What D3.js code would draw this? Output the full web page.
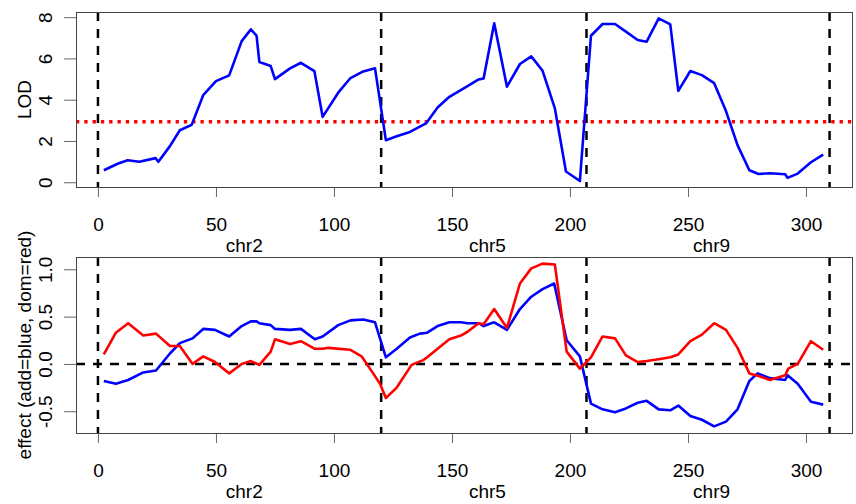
<!DOCTYPE html>
<html>
<head>
<meta charset="utf-8">
<script src="https://cdn.jsdelivr.net/npm/d3@7"></script>
<style>
  html, body { margin: 0; padding: 0; background: #fff; }
  svg text { font-family: "Liberation Sans", Arial, sans-serif; font-size: 19px; fill: #000; }
</style>
</head>
<body>
<script>
// ===== data =====
const lodPos = [2.5, 8.6, 12.6, 17.5, 24.4, 25.6, 30.5, 34.7, 39.7, 44.6, 50, 55.6, 60.9, 64.8, 67.2, 68.4, 73.2, 75, 81.4, 86, 91.7, 95.2, 101.8, 107, 112.4, 117.4,
  122, 126.6, 132.2, 139, 143.9, 148.9, 156.6, 161.3, 163.4, 167.9, 173.3, 178.8, 183.6, 188.4, 193.6, 198.3, 204.2,
  208.9, 213.8, 219.1, 223.7, 228.7, 232.5, 237.6, 242.5, 245.9, 251, 255.9, 261.1, 266.1, 271, 276, 279.9, 284.7, 291.2, 292.2, 296.5, 302.1, 307.3]
const lod = [0.58, 0.91, 1.07, 0.99, 1.17, 0.99, 1.75, 2.52, 2.78, 4.22, 4.9, 5.18, 6.84, 7.41, 7.1, 5.83, 5.63, 5.0, 5.52, 5.79, 5.39, 3.17, 4.34, 5.05, 5.37, 5.52,
  2.04, 2.23, 2.44, 2.85, 3.62, 4.14, 4.66, 4.98, 5.03, 7.70, 4.63, 5.73, 6.1, 5.4, 3.58, 0.52, 0.06,
  7.1, 7.67, 7.67, 7.3, 6.89, 6.81, 7.94, 7.65, 4.43, 5.39, 5.19, 4.8, 3.45, 1.8, 0.58, 0.4, 0.44, 0.39, 0.21, 0.42, 0.97, 1.34]

const addPos = [2.5, 7.6, 12.8, 19.2, 24.6, 30.5, 34.7, 40.1, 44.6, 49.6, 55.6, 60.9, 64.8, 67.2, 68.4, 73.2, 75, 81.4, 86, 91.9, 95.2, 101.8, 107, 112.4, 117.4,
  122, 126.6, 132.2, 136.4, 139.5, 143.9, 148.9, 153.8, 156.6, 161.3, 163.4, 167.9, 173.3, 178.8, 183.6, 188.4, 193.3, 198.6, 204.2,
  208.9, 213.8, 219.1, 223.7, 228.7, 232.5, 237.6, 242.5, 245.9, 251, 255.9, 261.1, 266.1, 271, 276, 279.5, 284.7, 291.2, 292.2, 296.5, 302.1, 307.3]
const add = [-0.18, -0.21, -0.17, -0.09, -0.07, 0.11, 0.22, 0.27, 0.37, 0.36, 0.29, 0.40, 0.45, 0.45, 0.43, 0.41, 0.37, 0.36, 0.37, 0.26, 0.29, 0.41, 0.46, 0.47, 0.44,
  0.07, 0.16, 0.28, 0.32, 0.33, 0.40, 0.44, 0.44, 0.43, 0.43, 0.40, 0.44, 0.36, 0.58, 0.71, 0.79, 0.85, 0.25, 0.08,
  -0.42, -0.48, -0.51, -0.47, -0.41, -0.39, -0.48, -0.49, -0.44, -0.55, -0.59, -0.66, -0.61, -0.48, -0.18, -0.10, -0.15, -0.17, -0.12, -0.21, -0.40, -0.43]

const domPos = [2.5, 7.6, 12.8, 19.2, 24.6, 30.5, 34.7, 40.1, 44.6, 49.6, 55.6, 60.9, 64.8, 68.4, 73.2, 75, 81.4, 86, 91.9, 95.2, 97.6, 106.8, 111.7, 116.6, 119.5,
  122, 126.6, 132.9, 137.8, 139.5, 143.9, 148.9, 153.8, 156.6, 161.3, 163.4, 167.9, 173.3, 178.8, 183.6, 188.4, 193.6, 198.6, 204.2,
  208.9, 213.8, 219.1, 223.7, 228.7, 232.5, 237.6, 242.5, 245.9, 251, 255.9, 261.1, 266.1, 271, 276, 280.3, 284.7, 291.2, 292.5, 296.5, 302.1, 307.3]
const dom = [0.10, 0.33, 0.43, 0.30, 0.32, 0.19, 0.19, 0.00, 0.08, 0.02, -0.10, 0.00, 0.03, -0.01, 0.13, 0.26, 0.21, 0.24, 0.16, 0.16, 0.17, 0.15, 0.08, -0.10, -0.21,
  -0.36, -0.25, -0.01, 0.04, 0.07, 0.16, 0.26, 0.30, 0.34, 0.43, 0.42, 0.58, 0.38, 0.85, 1.01, 1.06, 1.05, 0.13, -0.05,
  0.07, 0.29, 0.27, 0.09, 0.02, 0.03, 0.05, 0.07, 0.10, 0.24, 0.31, 0.43, 0.36, 0.17, -0.10, -0.13, -0.17, -0.12, -0.05, 0.00, 0.24, 0.15]

const chrBreaks = [0, 120, 207, 310]
const chrNames = ["chr2", "chr5", "chr9"]
const chrLabelPos = [62, 165, 260]
const xTicks = [0, 50, 100, 150, 200, 250, 300]
const lodTicks = [0, 2, 4, 6, 8]
const effTicks = [-0.5, 0, 0.5, 1.0]
const effTickLabels = ["-0.5", "0.0", "0.5", "1.0"]
const lodThreshold = 2.93

// ===== layout =====
const W = 856, H = 504
const left = 76, right = 852
const panels = [
  {top: 12, bottom: 187, domain: [-0.23, 8.25], ticks: lodTicks, labels: lodTicks.map(String), ylab: "LOD"},
  {top: 257, bottom: 433, domain: [-0.73, 1.13], ticks: effTicks, labels: effTickLabels, ylab: "effect (add=blue, dom=red)"}
]

const x = d3.scaleLinear().domain([-9.3, 319.5]).range([left, right])

const svg = d3.select("body").append("svg")
  .attr("width", W).attr("height", H)

panels.forEach((p, pi) => {
  const y = d3.scaleLinear().domain(p.domain).range([p.bottom, p.top])
  const g = svg.append("g")

  // x axis
  const xa = g.append("g")
    .attr("transform", `translate(0,${p.bottom})`)
    .call(d3.axisBottom(x).tickValues(xTicks).tickSize(10).tickPadding(20.5).tickFormat(d3.format("d")))
  xa.select(".domain").remove()
  xa.selectAll("line").attr("stroke", "#666")
  xa.selectAll("text").attr("font-size", null).attr("font-family", null)

  g.selectAll(".chrlab").data(chrNames).join("text")
    .attr("x", (d, i) => x(chrLabelPos[i]))
    .attr("y", p.bottom + 64.5)
    .attr("text-anchor", "middle")
    .text(d => d)

  // y axis
  const ya = g.append("g")
    .attr("transform", `translate(${left},0)`)
    .call(d3.axisLeft(y).tickValues(p.ticks).tickSize(12).tickFormat((d, i) => p.labels[i]))
  ya.select(".domain").remove()
  ya.selectAll("line").attr("stroke", "#666")
  ya.selectAll("text")
    .attr("font-size", null).attr("font-family", null)
    .attr("x", null).attr("dy", null)
    .attr("text-anchor", "middle")
    .attr("transform", "translate(-24.5,0) rotate(-90)")

  g.append("text")
    .attr("transform", `translate(31,${(p.top + p.bottom) / 2}) rotate(-90)`)
    .attr("text-anchor", "middle")
    .text(p.ylab)

  // chromosome boundaries
  g.selectAll(".brk").data(chrBreaks).join("line")
    .attr("x1", d => x(d)).attr("x2", d => x(d))
    .attr("y1", p.top).attr("y2", p.bottom)
    .attr("stroke", "#000").attr("stroke-width", 2.5)
    .attr("stroke-dasharray", "9,8")

  const line = d3.line().x(d => x(d[0])).y(d => y(d[1]))

  if (pi === 0) {
    g.append("line")
      .attr("x1", left).attr("x2", right)
      .attr("y1", y(lodThreshold)).attr("y2", y(lodThreshold))
      .attr("stroke", "#ff0000").attr("stroke-width", 3.5)
      .attr("stroke-dasharray", "3.3,5")
    g.append("path")
      .datum(d3.zip(lodPos, lod))
      .attr("d", line)
      .attr("fill", "none").attr("stroke", "#0000ff").attr("stroke-width", 2.6)
      .attr("stroke-linejoin", "round")
  } else {
    g.append("line")
      .attr("x1", left).attr("x2", right)
      .attr("y1", y(0)).attr("y2", y(0))
      .attr("stroke", "#000").attr("stroke-width", 2.5)
      .attr("stroke-dasharray", "9,8")
    g.append("path")
      .datum(d3.zip(addPos, add))
      .attr("d", line)
      .attr("fill", "none").attr("stroke", "#0000ff").attr("stroke-width", 2.6)
      .attr("stroke-linejoin", "round")
    g.append("path")
      .datum(d3.zip(domPos, dom))
      .attr("d", line)
      .attr("fill", "none").attr("stroke", "#ff0000").attr("stroke-width", 2.6)
      .attr("stroke-linejoin", "round")
  }

  // box
  g.append("rect")
    .attr("x", left + 0.5).attr("y", p.top + 0.5)
    .attr("width", right - left).attr("height", p.bottom - p.top)
    .attr("fill", "none").attr("stroke", "#444").attr("stroke-width", 1)
})
</script>
</body>
</html>
